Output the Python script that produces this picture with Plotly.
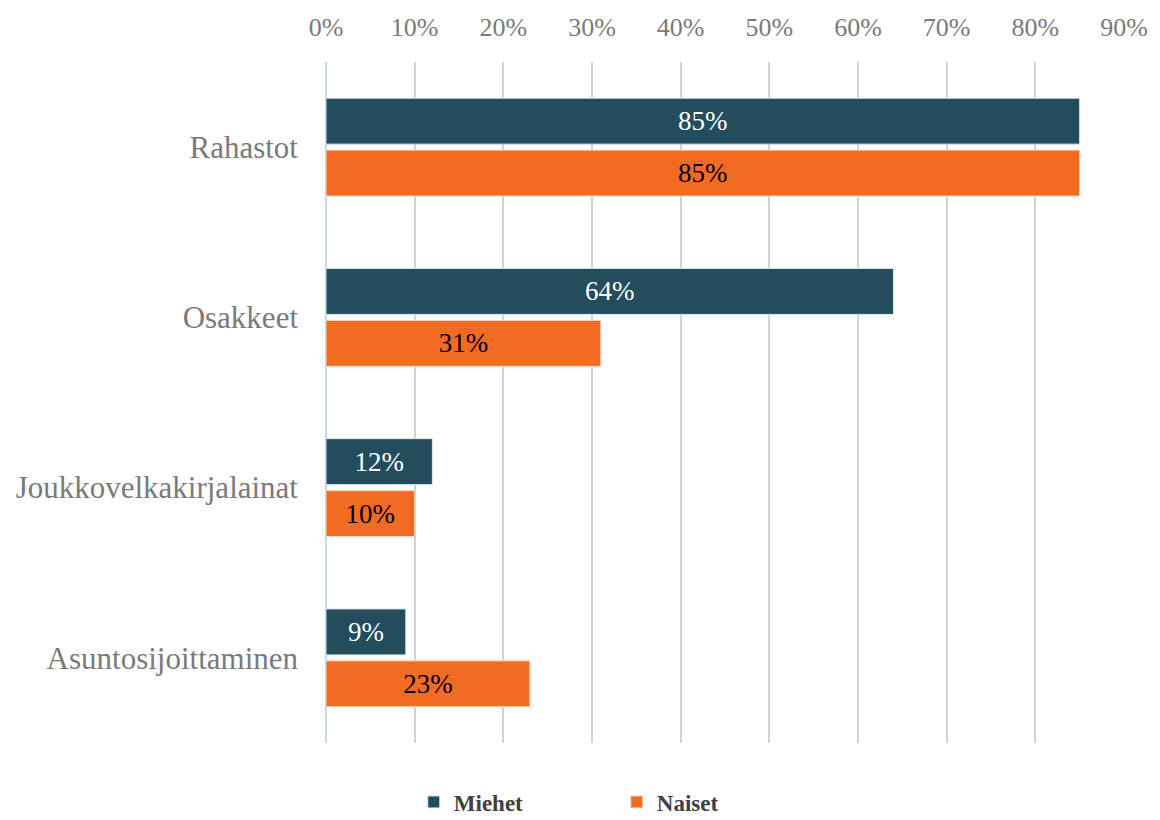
import plotly.graph_objects as go

categories = ["Rahastot", "Osakkeet", "Joukkovelkakirjalainat", "Asuntosijoittaminen"]
miehet = [85, 64, 12, 9]
naiset = [85, 31, 10, 23]
tick_vals = [0, 10, 20, 30, 40, 50, 60, 70, 80, 90]
tick_text = [f"{v}%" for v in tick_vals]

SERIF = "Liberation Serif"
DARK = "#234d5c"
ORANGE = "#f26b23"
GREY = "#7a7a7a"

fig = go.Figure()
fig.add_trace(go.Bar(
    name="Miehet", y=categories, x=miehet, orientation="h",
    marker=dict(color=DARK, line=dict(color="#dfe6ee", width=1)),
    text=[f"{v}%" for v in miehet], textposition="inside",
    insidetextanchor="middle",
    textfont=dict(family=SERIF, size=27, color="#ffffff"),
))
fig.add_trace(go.Bar(
    name="Naiset", y=categories, x=naiset, orientation="h",
    marker=dict(color=ORANGE, line=dict(color="#fbd9c4", width=1)),
    text=[f"{v}%" for v in naiset], textposition="inside",
    insidetextanchor="middle",
    textfont=dict(family=SERIF, size=27, color="#000000"),
))

fig.update_layout(
    width=1160, height=820,
    margin=dict(l=326, r=34, t=62, b=77),
    paper_bgcolor="white", plot_bgcolor="white",
    barmode="group", bargap=0.39, bargroupgap=0.115,
    font=dict(family=SERIF, color=GREY),
    showlegend=True,
    legend=dict(
        orientation="h", xref="paper", x=0.11, xanchor="left",
        yref="container", y=0.022, yanchor="middle",
        font=dict(family=SERIF, size=23, color="#404040", weight="bold"),
        traceorder="normal", entrywidth=158, entrywidthmode="pixels",
    ),
    uniformtext=dict(mode="show", minsize=10),
)
fig.update_xaxes(
    side="top", range=[0, 90], tickvals=tick_vals, ticktext=tick_text,
    tickfont=dict(family=SERIF, size=26, color=GREY),
    showgrid=True, gridcolor="#d3d3d3", gridwidth=1.5,
    zeroline=True, zerolinecolor="#c9d9ec", zerolinewidth=1.5,
    ticks="", ticklabelstandoff=20, fixedrange=True,
)
fig.update_yaxes(
    autorange="reversed",
    tickfont=dict(family=SERIF, size=31, color=GREY),
    ticks="", ticklabelstandoff=27, showgrid=False, fixedrange=True,
)

fig.write_html("out.html")
